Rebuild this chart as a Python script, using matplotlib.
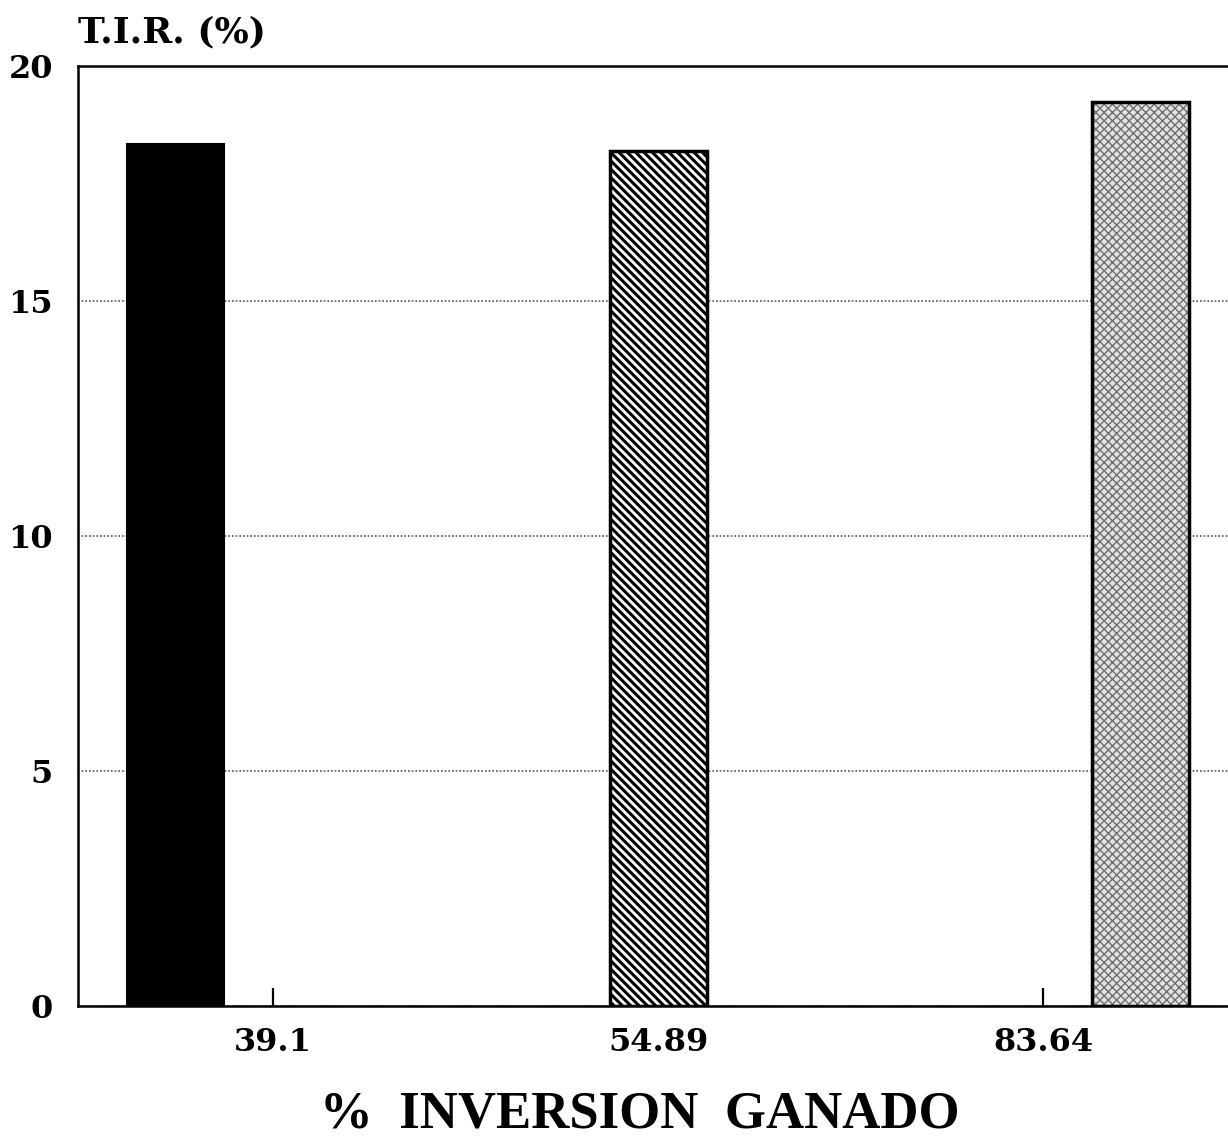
import matplotlib
matplotlib.use("Agg")
import matplotlib.pyplot as plt
import numpy as np

# T.I.R. por porcentaje de inversion en ganado
categorias = ["39.1", "54.89", "83.64"]
tir = [18.33, 18.19, 19.23]

plt.rcParams["font.family"] = ["DejaVu Serif", "Liberation Serif"]

fig = plt.figure(figsize=(12.28, 11.41), dpi=100)
ax = fig.add_axes([78 / 1228, 135 / 1141, (1236 - 78) / 1228, 940 / 1141])

x = np.arange(len(categorias))
w = 0.252
offsets = [-w, 0.0, w]


def hatch_lw(bars, lw):
    for b in bars:
        if hasattr(b, "set_hatch_linewidth"):
            b.set_hatch_linewidth(lw)


# barra 1: negro solido
ax.bar(x[0] + offsets[0], tir[0], width=w, color="black", edgecolor="black",
       linewidth=1.5, zorder=3)

# barra 2: rayado diagonal
with plt.rc_context({"hatch.linewidth": 2.2}):
    b2 = ax.bar(x[1] + offsets[1], tir[1], width=w, facecolor="white", edgecolor="black",
                hatch="\\" * 4, linewidth=0, zorder=3)
    hatch_lw(b2, 2.2)
ax.bar(x[1] + offsets[1], tir[1], width=w, fill=False, edgecolor="black",
       linewidth=2.5, zorder=4)

# barra 3: punteado gris claro
with plt.rc_context({"hatch.linewidth": 1.0}):
    b3 = ax.bar(x[2] + offsets[2], tir[2], width=w, facecolor="#e2e2e2", edgecolor="#707070",
                hatch="xxxx", linewidth=0, zorder=3)
    hatch_lw(b3, 1.0)
ax.bar(x[2] + offsets[2], tir[2], width=w, fill=False, edgecolor="black",
       linewidth=2.5, zorder=4)

ax.set_xlim(-0.506, 2.5)
ax.set_ylim(0, 20)
ax.set_yticks([0, 5, 10, 15, 20])
ax.set_xticks(x)
ax.set_xticklabels(categorias)

ax.yaxis.grid(True, linestyle=(0, (1, 1.2)), color="#555555", linewidth=1.2, zorder=0)
ax.tick_params(axis="y", length=0, pad=18, labelsize=23)
ax.tick_params(axis="x", direction="in", length=13, width=1.6, pad=15, labelsize=23)
for lbl in ax.get_xticklabels() + ax.get_yticklabels():
    lbl.set_fontweight("bold")

for side in ["left", "bottom", "top"]:
    ax.spines[side].set_linewidth(1.8)
    ax.spines[side].set_color("black")
ax.spines["right"].set_visible(False)

ax.text(0.0, 20.5, "T.I.R. (%)", fontsize=26, fontweight="bold", ha="left",
        va="baseline", transform=ax.get_yaxis_transform())
fig.text(0.521, 3 / 1141, "%  INVERSION  GANADO", fontsize=38, ha="center",
         va="bottom", family=["Liberation Serif"], fontweight="bold")

fig.savefig("out.png", dpi=100)
